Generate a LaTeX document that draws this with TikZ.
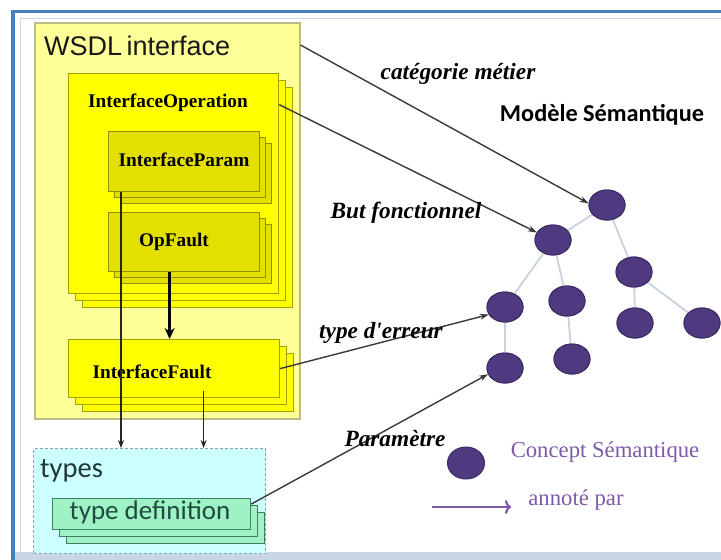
\documentclass[tikz,border=0pt]{standalone}
\usepackage{fontspec}
\setmainfont{Liberation Serif}
\newfontfamily\arialf{Liberation Sans}
\newfontfamily\calibf{Carlito}
\usetikzlibrary{shapes.geometric,shadows,arrows.meta,calc}
\definecolor{frameblue}{HTML}{4A7EBB}
\definecolor{framelight}{HTML}{C9D6E6}
\definecolor{wsdlfill}{HTML}{FFFF99}
\definecolor{wsdldraw}{HTML}{BDBD8A}
\definecolor{opfill}{HTML}{FFFF00}
\definecolor{opdraw}{HTML}{A3A300}
\definecolor{infill}{HTML}{E3E000}
\definecolor{indraw}{HTML}{8F8F00}
\definecolor{typesfill}{HTML}{CCFFFF}
\definecolor{typesdraw}{HTML}{8FA3A3}
\definecolor{tdfill}{HTML}{9EF2C4}
\definecolor{tddraw}{HTML}{3E8062}
\definecolor{tdtext}{HTML}{1E4A40}
\definecolor{typestext}{HTML}{203838}
\definecolor{conceptfill}{HTML}{4F3A7F}
\definecolor{conceptdraw}{HTML}{3A2B66}
\definecolor{treeedge}{HTML}{C8D2DE}
\definecolor{legendpurple}{HTML}{7F5AA8}
\definecolor{arrowgray}{HTML}{3A3A3A}
\tikzset{
  box/.style={rectangle, draw, inner sep=0pt, anchor=north west},
  wsdlbox/.style={box, fill=wsdlfill, draw=wsdldraw, line width=1.5pt},
  opbox/.style={box, fill=opfill, draw=opdraw, line width=1.2pt,
    double copy shadow={shadow xshift=7pt, shadow yshift=-7pt}},
  inbox/.style={box, fill=infill, draw=indraw, line width=1.2pt,
    double copy shadow={shadow xshift=6pt, shadow yshift=-6pt}},
  typesbox/.style={box, fill=typesfill, draw=typesdraw, line width=1.2pt, densely dashed},
  tdbox/.style={box, fill=tdfill, draw=tddraw, line width=1.2pt,
    double copy shadow={shadow xshift=7pt, shadow yshift=-7pt}},
  lbl/.style={inner sep=0pt, font=\fontsize{19.3}{22}\selectfont\bfseries},
  annot/.style={inner sep=0pt, font=\fontsize{23.3}{26}\selectfont\bfseries\itshape},
  concept/.style={ellipse, minimum width=36pt, minimum height=30pt, inner sep=0pt,
    fill=conceptfill, draw=conceptdraw, line width=1pt},
  tedge/.style={draw=treeedge, line width=1.8pt},
  annarrow/.style={draw=arrowgray, line width=1.4pt, -{Stealth[length=9pt,width=6pt]}},
  thinarrow/.style={draw=black!85, line width=1.2pt, -{Stealth[length=8pt,width=6pt]}},
  thickarrow/.style={draw=black, line width=2.4pt, -{Stealth[length=11pt,width=10pt]}},
  purpletext/.style={inner sep=0pt, text=legendpurple, font=\fontsize{22.7}{26}\selectfont}
}
\begin{document}
\begin{tikzpicture}[x=1pt,y=-1pt]
\useasboundingbox (0,0) rectangle (721,560);
\fill[white] (0,0) rectangle (721,560);
% frame
\fill[framelight] (12,552) rectangle (721,560);
\draw[framelight, line width=1.5pt] (20.5,560) -- (20.5,18.5) -- (721,18.5);
\draw[frameblue, line width=3.5pt] (13,560) -- (13,11.5) -- (721,11.5);

% WSDL side
\node[wsdlbox, minimum width=265pt, minimum height=396pt] (wsdl) at (34,22) {};
\node[inner sep=0pt, anchor=west, text=black!90, font=\arialf\fontsize{27}{30}\selectfont] (twsdl) at (44,46) {WSDL\,interface};

\node[opbox, minimum width=210pt, minimum height=220pt] (iop) at (68,73) {};
\node[lbl] (tiop) at (168,103) {InterfaceOperation};

\node[inbox, minimum width=151pt, minimum height=60pt] (ipar) at (108,131) {};
\node[lbl] (tipar) at (184,160) {InterfaceParam};

\node[inbox, minimum width=151pt, minimum height=59pt] (opf) at (108,212) {};
\node[lbl] (topf) at (174,242) {OpFault};

\node[opbox, minimum width=211pt, minimum height=58pt] (ifault) at (68,339) {};
\node[lbl] (tifault) at (152,372) {InterfaceFault};

\node[typesbox, minimum width=232pt, minimum height=105pt] (types) at (33,448) {};
\node[inner sep=0pt, anchor=west, text=typestext, font=\calibf\fontsize{28.5}{30}\selectfont] (ttypes) at (40,471) {types};

\node[tdbox, minimum width=198pt, minimum height=31pt] (tdef) at (52,498) {};
\node[inner sep=0pt, text=tdtext, font=\calibf\fontsize{27}{28}\selectfont] (ttdef) at (150,512) {type definition};

% internal arrows
\draw[thinarrow] ([xshift=13pt]ipar.south west) -- ([xshift=13pt]ipar.south west |- types.north);
\draw[thickarrow] ([xshift=-14.5pt]opf.south) -- ([xshift=-14.5pt]opf.south |- ifault.north);
\draw[thinarrow] ([xshift=29.5pt,yshift=7pt]ifault.south) -- ([xshift=29.5pt]ifault.south |- types.north);

% semantic model
\node[inner sep=0pt, font=\calibf\fontsize{24.3}{26}\selectfont\bfseries] (tmodel) at (602,115) {Modèle Sémantique};

\node[concept] (n1) at (607,205) {};
\node[concept] (n2) at (553,240) {};
\node[concept] (n3) at (634,272) {};
\node[concept] (n4) at (505,307) {};
\node[concept] (n5) at (567,301) {};
\node[concept] (n6) at (635,323) {};
\node[concept] (n7) at (702,323) {};
\node[concept] (n8) at (505,368) {};
\node[concept] (n9) at (572,359) {};

\draw[tedge] (n1) -- (n2);
\draw[tedge] (n1) -- (n3);
\draw[tedge] (n2) -- (n4);
\draw[tedge] (n2) -- (n5);
\draw[tedge] (n3) -- (n6);
\draw[tedge] (n3) -- (n7);
\draw[tedge] (n4) -- (n8);
\draw[tedge] (n5) -- (n9);
\foreach \n in {1,...,9}{\node[concept] at (n\n) {};}

% annotation arrows
\draw[annarrow] ([yshift=-23pt]wsdl.north east) -- (n1.175);
\draw[annarrow] ([yshift=79pt]iop.east) -- (n2.155);
\draw[annarrow] (ifault.east) -- (n4.205);
\draw[annarrow] ([yshift=10pt]tdef.east) -- (n8.200);

\node[annot] (lcat) at (458,74) {catégorie métier};
\node[annot] (lbut) at (406,213) {But fonctionnel};
\node[annot] (lerr) at (381,333) {type d\textquotesingle erreur};
\node[annot] (lpar) at (395,439) {Paramètre};

% legend
\node[concept, minimum width=37pt, minimum height=32pt] (nl) at (466,463) {};
\node[purpletext] (tconcept) at (605,452) {Concept Sémantique};
\coordinate (la) at (432,507);
\coordinate (lb) at (511,507);
\draw[legendpurple, line width=2.2pt, -{To[length=6pt,width=14pt]}] (la) -- (lb);
\node[purpletext] (tannot) at (576,500) {annoté par};
\end{tikzpicture}
\end{document}
